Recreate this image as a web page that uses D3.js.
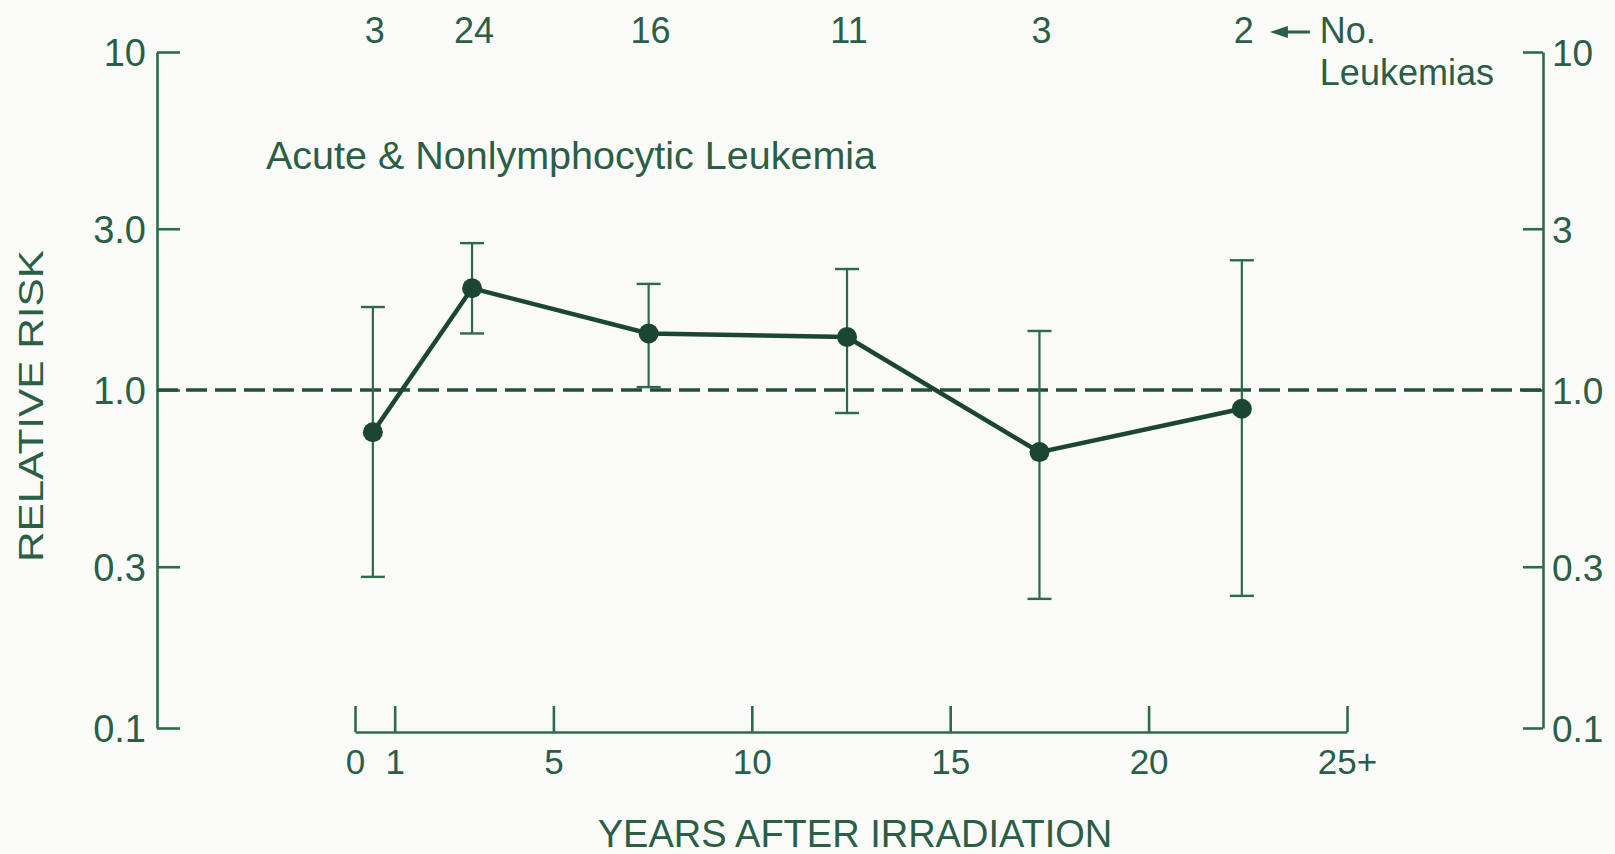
<!DOCTYPE html>
<html>
<head>
<meta charset="utf-8">
<script src="https://cdn.jsdelivr.net/npm/d3@7"></script>
<style>
body { margin: 0; background: #fafaf8; }
text { font-family: "Liberation Sans", Arial, sans-serif; fill: #2a5e45; }
.axis path, .axis line { stroke: #2c6c4a; stroke-width: 2.6; }
.axis text { fill: #2a5e45; }
</style>
</head>
<body>
<div id="canvas"></div>
<script>
// ----------------------------------------------------------
// DATA -----------------------------------------------------
// ----------------------------------------------------------
var years = [0.45, 2.95, 7.4, 12.4, 17.25, 22.35];
var risk = [0.75, 2.0, 1.47, 1.435, 0.655, 0.88];
var ci_low = [0.28, 1.47, 1.02, 0.855, 0.241, 0.246];
var ci_high = [1.76, 2.72, 2.06, 2.28, 1.495, 2.42];
var counts = [3, 24, 16, 11, 3, 2];

var x_ticks = [0, 1, 5, 10, 15, 20, 25];
var x_tick_labels = ["0", "1", "5", "10", "15", "20", "25+"];
var y_ticks = [0.1, 0.3, 1, 3, 10];
var y_left_labels = ["0.1", "0.3", "1.0", "3.0", "10"];
var y_right_labels = ["0.1", "0.3", "1.0", "3", "10"];

var points = years.map((d, i) => ({
year: d, value: risk[i], low: ci_low[i], high: ci_high[i], n: counts[i]
}));

var color_axis = "#2c6a4a";
var color_line = "#1b4732";

// ----------------------------------------------------------
// STRUCTURE ------------------------------------------------
// ----------------------------------------------------------
var W = 1615, H = 854;

var container = d3.select("#canvas").append("svg")
.attr("width", W)
.attr("height", H)
.style("background-color", "#fafaf8");

var xScale = d3.scaleLinear()
.domain([0, 25])
.range([355, 1347]);

var yScale = d3.scaleLog()
.domain([0.1, 10])
.range([728, 52]);

var left_x = 157, right_x = 1543, bottom_y = 732;

// ----------------------------------------------------------
// AXES -----------------------------------------------------
// ----------------------------------------------------------
// left
container.append("g")
.attr("class", "axis")
.attr("transform", `translate(${left_x}, 0)`)
.call(d3.axisLeft(yScale)
.tickValues(y_ticks)
.tickFormat((d, i) => y_left_labels[i])
.tickSize(-23)
.tickSizeOuter(0)
.tickPadding(11))
.call(g => g.selectAll("text").attr("font-size", 38).attr("dy", "0.36em"));

// right
container.append("g")
.attr("class", "axis")
.attr("transform", `translate(${right_x}, 0)`)
.call(d3.axisRight(yScale)
.tickValues(y_ticks)
.tickFormat((d, i) => y_right_labels[i])
.tickSize(-20)
.tickSizeOuter(0)
.tickPadding(9))
.call(g => g.selectAll("text").attr("font-size", 37).attr("dy", "0.36em"));

// bottom
container.append("g")
.attr("class", "axis")
.attr("transform", `translate(0, ${bottom_y})`)
.call(d3.axisBottom(xScale)
.tickValues(x_ticks)
.tickFormat((d, i) => x_tick_labels[i])
.tickSize(-26)
.tickSizeOuter(0)
.tickPadding(17))
.call(g => g.selectAll("text").attr("font-size", 35));

container.selectAll(".axis .domain").attr("fill", "none");

// reference line at 1.0
container.append("line")
.attr("x1", left_x)
.attr("x2", right_x)
.attr("y1", yScale(1))
.attr("y2", yScale(1))
.attr("stroke", "#244e39")
.attr("stroke-width", 3.5)
.attr("stroke-dasharray", "21,8");

// ----------------------------------------------------------
// GFX ------------------------------------------------------
// ----------------------------------------------------------
var bars = container.append("g").attr("class", "error_bars");
var cap = 12;

bars.selectAll(".eb")
.data(points)
.enter()
.append("line")
.attr("x1", d => xScale(d.year))
.attr("x2", d => xScale(d.year))
.attr("y1", d => yScale(d.low))
.attr("y2", d => yScale(d.high))
.attr("stroke", color_axis)
.attr("stroke-width", 2.2);

bars.selectAll(".cap_hi")
.data(points)
.enter()
.append("line")
.attr("x1", d => xScale(d.year) - cap)
.attr("x2", d => xScale(d.year) + cap)
.attr("y1", d => yScale(d.high))
.attr("y2", d => yScale(d.high))
.attr("stroke", color_axis)
.attr("stroke-width", 2.4);

bars.selectAll(".cap_lo")
.data(points)
.enter()
.append("line")
.attr("x1", d => xScale(d.year) - cap)
.attr("x2", d => xScale(d.year) + cap)
.attr("y1", d => yScale(d.low))
.attr("y2", d => yScale(d.low))
.attr("stroke", color_axis)
.attr("stroke-width", 2.4);

var line = d3.line()
.x(d => xScale(d.year))
.y(d => yScale(d.value));

container.append("path")
.datum(points)
.attr("d", line)
.attr("fill", "none")
.attr("stroke", color_line)
.attr("stroke-width", 4.5);

container.selectAll(".dot")
.data(points)
.enter()
.append("circle")
.attr("cx", d => xScale(d.year))
.attr("cy", d => yScale(d.value))
.attr("r", 10)
.attr("fill", color_line);

// ----------------------------------------------------------
// TEXT -----------------------------------------------------
// ----------------------------------------------------------
container.selectAll(".count")
.data(points)
.enter()
.append("text")
.attr("x", d => xScale(d.year) + 2)
.attr("y", 43)
.attr("text-anchor", "middle")
.attr("font-size", 36)
.text(d => d.n);

// arrow + "No. Leukemias"
var ax = xScale(years[years.length - 1]) + 28;
container.append("line")
.attr("x1", ax + 10)
.attr("x2", ax + 40)
.attr("y1", 32)
.attr("y2", 32)
.attr("stroke", "#2a5e45")
.attr("stroke-width", 3);
container.append("path")
.attr("d", `M${ax},32 L${ax + 18},26 L${ax + 18},38 Z`)
.attr("fill", "#2a5e45");

container.append("text")
.attr("x", ax + 50)
.attr("y", 43)
.attr("font-size", 36)
.text("No.");
container.append("text")
.attr("x", ax + 50)
.attr("y", 85)
.attr("font-size", 36)
.text("Leukemias");

container.append("text")
.attr("x", 266)
.attr("y", 169)
.attr("font-size", 38)
.attr("textLength", 610)
.attr("lengthAdjust", "spacingAndGlyphs")
.text("Acute & Nonlymphocytic Leukemia");

container.append("text")
.attr("x", (xScale(0) + xScale(25)) / 2 + 4)
.attr("y", 847)
.attr("text-anchor", "middle")
.attr("font-size", 38)
.text("YEARS AFTER IRRADIATION");

container.append("text")
.attr("transform", `translate(43, 406) rotate(-90)`)
.attr("text-anchor", "middle")
.attr("font-size", 35)
.attr("textLength", 312)
.attr("lengthAdjust", "spacingAndGlyphs")
.text("RELATIVE RISK");
</script>
</body>
</html>
